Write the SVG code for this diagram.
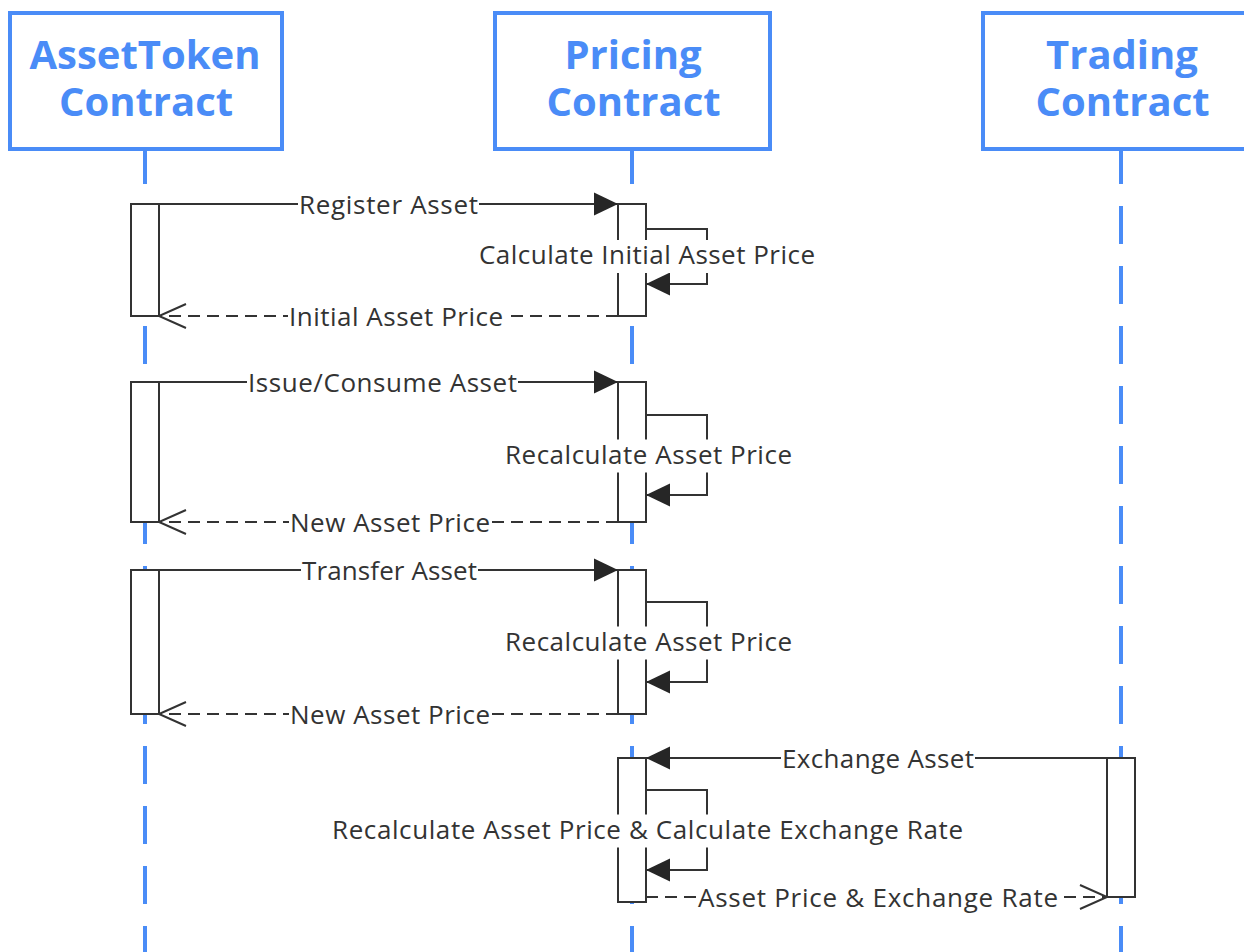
<svg xmlns="http://www.w3.org/2000/svg" width="1244" height="952" viewBox="0 0 1244 952">
  <style>
    .head { fill: #ffffff; stroke: #4a8cf7; stroke-width: 4; }
    .head-text { font-family: "Open Sans", "Noto Sans", sans-serif; font-weight: 700; font-size: 40px; fill: #4a8cf7; text-anchor: middle; }
    .life { stroke: #4a8cf7; stroke-width: 4; stroke-dasharray: 38 22; fill: none; }
    .act { fill: #ffffff; stroke: #333333; stroke-width: 2; }
    .msg { fill: none; stroke: #333333; stroke-width: 2; }
    .ret { stroke-dasharray: 12 7; }
    .lbl { font-family: "Open Sans", "Noto Sans", sans-serif; font-size: 26px; fill: #333333; text-anchor: middle; }
    .bg { fill: #ffffff; }
  </style>
  <defs>
    <marker id="solidHead" markerUnits="userSpaceOnUse" markerWidth="24" markerHeight="23" refX="24" refY="11.5" orient="auto" overflow="visible">
      <path d="M0,0 L24,11.5 L0,23 Z" fill="#262626"/>
    </marker>
    <marker id="openHead" markerUnits="userSpaceOnUse" markerWidth="28" markerHeight="26" refX="27" refY="12" orient="auto" overflow="visible">
      <path d="M0,0 L27,12 L0,24" fill="none" stroke="#333333" stroke-width="2"/>
    </marker>
  </defs>

  <rect width="1244" height="952" fill="#ffffff"/>

  <!-- AssetToken participant -->
  <g id="assettoken">
    <line class="life" x1="145" y1="146" x2="145" y2="952"/>
    <rect class="head" x="10" y="13" width="272" height="136"/>
    <text class="head-text" y="69"><tspan x="145">AssetToken</tspan><tspan x="146" dy="47">Contract</tspan></text>
    <rect class="act" x="131" y="204" width="28" height="112"/>
    <rect class="act" x="131" y="382" width="28" height="140"/>
    <rect class="act" x="131" y="570" width="28" height="144"/>
  </g>

  <!-- Pricing participant -->
  <g id="pricing">
    <line class="life" x1="632" y1="146" x2="632" y2="952"/>
    <rect class="head" x="495" y="13" width="275" height="136"/>
    <text class="head-text" y="69"><tspan x="633">Pricing</tspan><tspan x="633.5" dy="47">Contract</tspan></text>
    <rect class="act" x="618" y="204" width="28" height="112"/>
    <rect class="act" x="618" y="382" width="28" height="140"/>
    <rect class="act" x="618" y="570" width="28" height="144"/>
    <rect class="act" x="618" y="758" width="28" height="144"/>
  </g>

  <!-- Trading participant -->
  <g id="trading">
    <line class="life" x1="1121" y1="146" x2="1121" y2="952"/>
    <rect class="head" x="983" y="13" width="278" height="136"/>
    <text class="head-text" y="69"><tspan x="1122">Trading</tspan><tspan x="1122.5" dy="47">Contract</tspan></text>
    <rect class="act" x="1107" y="758" width="28" height="139"/>
  </g>

  <!-- messages -->
  <g id="connectors">
    <!-- register -->
    <path class="msg" d="M159,204 H618" marker-end="url(#solidHead)"/>
    <path class="msg" d="M646,229 H707 V284 H646" marker-end="url(#solidHead)"/>
    <path class="msg ret" d="M618,316 H159" marker-end="url(#openHead)"/>
    <!-- issue / consume -->
    <path class="msg" d="M159,382 H618" marker-end="url(#solidHead)"/>
    <path class="msg" d="M646,415 H707 V495 H646" marker-end="url(#solidHead)"/>
    <path class="msg ret" d="M618,522 H159" marker-end="url(#openHead)"/>
    <!-- transfer -->
    <path class="msg" d="M159,570 H618" marker-end="url(#solidHead)"/>
    <path class="msg" d="M646,602 H707 V682 H646" marker-end="url(#solidHead)"/>
    <path class="msg ret" d="M618,714 H159" marker-end="url(#openHead)"/>
    <!-- exchange -->
    <path class="msg" d="M1107,758 H646" marker-end="url(#solidHead)"/>
    <path class="msg" d="M646,790 H707 V870 H646" marker-end="url(#solidHead)"/>
    <path class="msg ret" d="M646,897 H1107" marker-end="url(#openHead)"/>

    <!-- label backgrounds -->
    <rect class="bg" x="298" y="191" width="181" height="26"/>
    <rect class="bg" x="477" y="240" width="340" height="33"/>
    <rect class="bg" x="288" y="303" width="216" height="26"/>
    <rect class="bg" x="247" y="369" width="271" height="26"/>
    <rect class="bg" x="503" y="439.5" width="291" height="33"/>
    <rect class="bg" x="289" y="509" width="202" height="26"/>
    <rect class="bg" x="301" y="557" width="177" height="26"/>
    <rect class="bg" x="503" y="626.5" width="291" height="33"/>
    <rect class="bg" x="289" y="701" width="202" height="26"/>
    <rect class="bg" x="781" y="745" width="194" height="26"/>
    <rect class="bg" x="330" y="814.5" width="635" height="33"/>
    <rect class="bg" x="697" y="884" width="362" height="26"/>

    <!-- labels -->
    <text class="lbl" x="388.5" y="213.5" textLength="179" lengthAdjust="spacing">Register Asset</text>
    <text class="lbl" x="647" y="264" textLength="336" lengthAdjust="spacing">Calculate Initial Asset Price</text>
    <text class="lbl" x="396" y="325.5" textLength="214" lengthAdjust="spacing">Initial Asset Price</text>
    <text class="lbl" x="382.5" y="391.5" textLength="269" lengthAdjust="spacing">Issue/Consume Asset</text>
    <text class="lbl" x="648.5" y="464" textLength="287" lengthAdjust="spacing">Recalculate Asset Price</text>
    <text class="lbl" x="390" y="531.5" textLength="200" lengthAdjust="spacing">New Asset Price</text>
    <text class="lbl" x="389.5" y="579.5" textLength="175" lengthAdjust="spacing">Transfer Asset</text>
    <text class="lbl" x="648.5" y="651" textLength="287" lengthAdjust="spacing">Recalculate Asset Price</text>
    <text class="lbl" x="390" y="723.5" textLength="200" lengthAdjust="spacing">New Asset Price</text>
    <text class="lbl" x="878" y="767.5" textLength="192" lengthAdjust="spacing">Exchange Asset</text>
    <text class="lbl" x="647.5" y="839" textLength="631" lengthAdjust="spacing">Recalculate Asset Price &amp; Calculate Exchange Rate</text>
    <text class="lbl" x="878" y="906.5" textLength="360" lengthAdjust="spacing">Asset Price &amp; Exchange Rate</text>
  </g>
</svg>
